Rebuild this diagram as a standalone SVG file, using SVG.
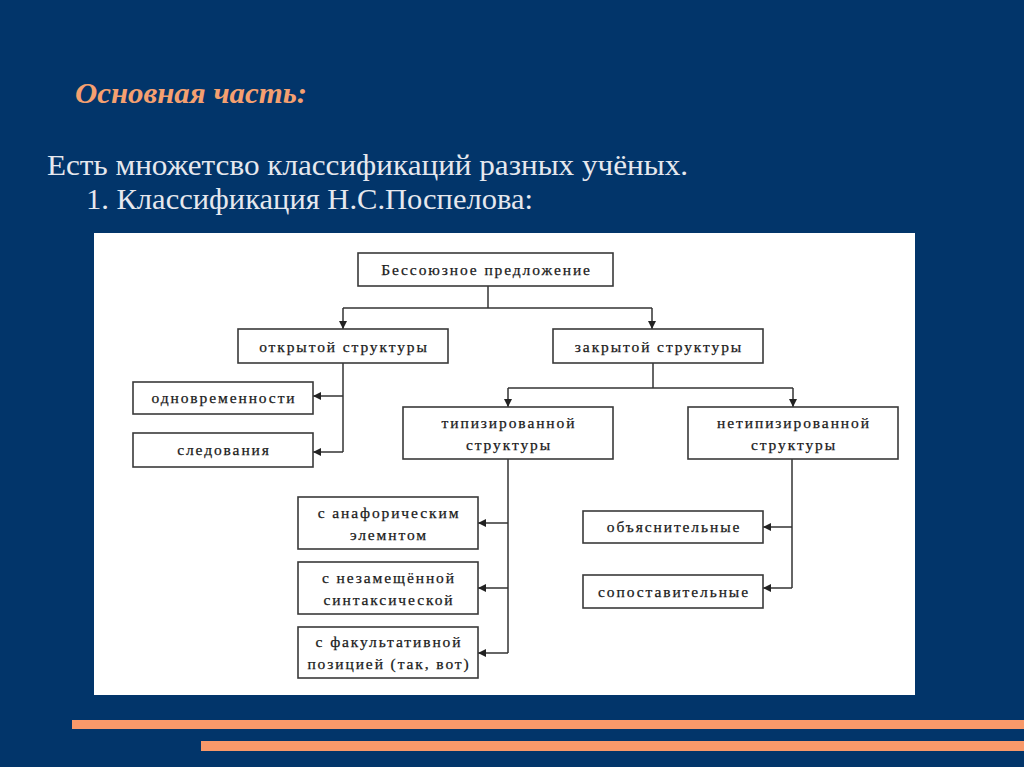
<svg xmlns="http://www.w3.org/2000/svg" width="1024" height="767" viewBox="0 0 1024 767">
<defs>
<style>
.bg{fill:#02356A}
.bar{fill:#F8996A}
.box rect{fill:#fff;stroke:#3a3a3a;stroke-width:1.6}
.box text{font-family:"Liberation Serif","Times New Roman","DejaVu Serif",serif;font-size:15.5px;letter-spacing:1.9px;fill:#1a1a1a;stroke:#1a1a1a;stroke-width:0.25;text-anchor:middle}
.conn path{fill:none;stroke:#333;stroke-width:1.5}
.head{fill:#222}
.title{font-family:"Liberation Serif","Times New Roman",serif;font-style:italic;font-weight:bold;fill:#F5A070}
.main{font-family:"Liberation Serif","Times New Roman",serif;fill:#E6E8EE}
</style>
<marker id="arr" viewBox="0 0 10 10" refX="10" refY="5" markerWidth="8" markerHeight="8" markerUnits="userSpaceOnUse" orient="auto">
<path d="M0,0 L10,5 L0,10 z" class="head"/>
</marker>
</defs>
<rect class="bg" x="0" y="0" width="1024" height="767"/>
<text class="title" x="75" y="103" font-size="30" textLength="232" lengthAdjust="spacingAndGlyphs">Основная часть:</text>
<text class="main" x="47" y="175" font-size="29" textLength="641" lengthAdjust="spacingAndGlyphs">Есть множетсво классификаций разных учёных.</text>
<text class="main" x="86" y="209" font-size="29" textLength="447" lengthAdjust="spacingAndGlyphs">1. Классификация Н.С.Поспелова:</text>
<rect x="94" y="233" width="821" height="462" fill="#fff"/>
<g class="conn">
<path d="M488,286 V308"/>
<path d="M343,308 H652"/>
<path d="M343,308 V329" marker-end="url(#arr)"/>
<path d="M652,308 V329" marker-end="url(#arr)"/>
<path d="M343,363 V452"/>
<path d="M343,396 H313" marker-end="url(#arr)"/>
<path d="M343,452 H313" marker-end="url(#arr)"/>
<path d="M653,363 V388"/>
<path d="M508,388 H793"/>
<path d="M508,388 V407" marker-end="url(#arr)"/>
<path d="M793,388 V407" marker-end="url(#arr)"/>
<path d="M508,459 V653"/>
<path d="M508,523 H478" marker-end="url(#arr)"/>
<path d="M508,588 H478" marker-end="url(#arr)"/>
<path d="M508,653 H478" marker-end="url(#arr)"/>
<path d="M792,459 V588"/>
<path d="M792,527 H763" marker-end="url(#arr)"/>
<path d="M792,588 H763" marker-end="url(#arr)"/>
</g>
<g id="n-root" class="box"><rect x="358" y="253" width="255" height="33"/><text x="486.5" y="275">Бессоюзное предложение</text></g>
<g id="n-open" class="box"><rect x="238" y="329" width="210" height="34"/><text x="344" y="352">открытой структуры</text></g>
<g id="n-closed" class="box"><rect x="553" y="329" width="210" height="34"/><text x="659" y="352">закрытой структуры</text></g>
<g id="n-simul" class="box"><rect x="133" y="382" width="180" height="32"/><text x="224" y="403">одновременности</text></g>
<g id="n-seq" class="box"><rect x="133" y="433" width="180" height="34"/><text x="224" y="455">следования</text></g>
<g id="n-typ" class="box"><rect x="403" y="407" width="210" height="52"/><text x="509" y="428">типизированной</text><text x="509" y="450">структуры</text></g>
<g id="n-ntyp" class="box"><rect x="688" y="407" width="210" height="52"/><text x="794" y="428">нетипизированной</text><text x="794" y="450">структуры</text></g>
<g id="n-ana" class="box"><rect x="298" y="497" width="180" height="52"/><text x="389" y="518">с анафорическим</text><text x="389" y="540">элемнтом</text></g>
<g id="n-nez" class="box"><rect x="298" y="562" width="180" height="52"/><text x="389" y="583">с незамещённой</text><text x="389" y="605">синтаксической</text></g>
<g id="n-fak" class="box"><rect x="298" y="627" width="180" height="51"/><text x="389" y="647">с факультативной</text><text x="389" y="669">позицией (так, вот)</text></g>
<g id="n-obj" class="box"><rect x="583" y="511" width="180" height="32"/><text x="674" y="532">объяснительные</text></g>
<g id="n-sop" class="box"><rect x="583" y="575" width="180" height="33"/><text x="674" y="597">сопоставительные</text></g>
<rect class="bar" x="72" y="720" width="952" height="9"/>
<rect class="bar" x="201" y="741" width="823" height="10"/>
</svg>
